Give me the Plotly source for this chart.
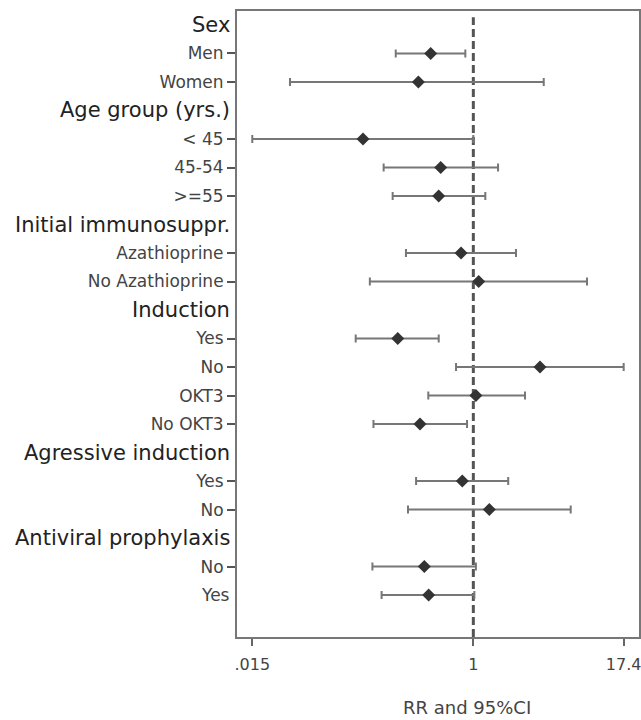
import plotly.graph_objects as go

# Row labels (top to bottom); headers have no estimate
row_labels = ["Sex", "Men", "Women",
              "Age group (yrs.)", "< 45", "45-54", ">=55",
              "Initial immunosuppr.", "Azathioprine", "No Azathioprine",
              "Induction", "Yes", "No", "OKT3", "No OKT3",
              "Agressive induction", "Yes", "No",
              "Antiviral prophylaxis", "No", "Yes"]
is_header = [True, False, False,
             True, False, False, False,
             True, False, False,
             True, False, False, False, False,
             True, False, False,
             True, False, False]
rr = [None, 0.445, 0.352,
      None, 0.123, 0.538, 0.518,
      None, 0.792, 1.107,
      None, 0.238, 3.55, 1.05, 0.363,
      None, 0.811, 1.355,
      None, 0.394, 0.428]
ci_low = [None, 0.229, 0.0307,
          None, 0.015, 0.182, 0.216,
          None, 0.278, 0.140,
          None, 0.107, 0.720, 0.425, 0.150,
          None, 0.337, 0.289,
          None, 0.147, 0.175]
ci_high = [None, 0.859, 3.81,
           None, 1.0, 1.60, 1.256,
           None, 2.25, 8.67,
           None, 0.518, 17.4, 2.67, 0.887,
           None, 1.94, 6.36,
           None, 1.05, 1.02]
x_tick_vals = [0.015, 1, 17.4]
x_tick_text = [".015", "1", "17.4"]
x_title = "RR and 95%CI"

FONT = "DejaVu Sans"

ys, xs, plus, minus = [], [], [], []
for i, (v, lo, hi) in enumerate(zip(rr, ci_low, ci_high)):
    if v is None:
        continue
    ys.append(i)
    xs.append(v)
    plus.append(hi - v)
    minus.append(v - lo)

fig = go.Figure()
fig.add_trace(go.Scatter(
    x=xs, y=ys, mode="markers",
    marker=dict(symbol="diamond", size=10, color="#333333"),
    error_x=dict(type="data", symmetric=False, array=plus, arrayminus=minus,
                 color="#777777", thickness=2, width=4),
    showlegend=False, hoverinfo="skip"))

# reference line at RR = 1
fig.add_shape(type="line", xref="x", yref="paper", x0=1, x1=1, y0=0, y1=0.99,
              line=dict(color="#555555", width=3, dash="8px,4px"), layer="below")

# tick rows: all non-header rows except the final one (drawn without tick)
last = len(row_labels) - 1
tick_rows = [i for i, h in enumerate(is_header) if not h and i != last]
tick_text = [row_labels[i] for i in tick_rows]

for i, h in enumerate(is_header):
    if h:
        fig.add_annotation(x=0, xref="paper", y=i, yref="y", text=row_labels[i],
                           xanchor="right", yanchor="middle", xshift=-5, showarrow=False,
                           font=dict(family=FONT, size=21, color="#222222"))
fig.add_annotation(x=0, xref="paper", y=last, yref="y", text=row_labels[last],
                   xanchor="right", yanchor="middle", xshift=-5, showarrow=False,
                   font=dict(family=FONT, size=17, color="#444444"))

fig.add_annotation(x=0.572, xref="paper", y=-0.112, yref="paper", text=x_title,
                   xanchor="center", yanchor="middle", showarrow=False,
                   font=dict(family=FONT, size=18, color="#444444"))

fig.update_xaxes(type="log", range=[-1.95, 1.367], automargin=False,
                 tickvals=x_tick_vals, ticktext=x_tick_text,
                 ticks="outside", ticklen=7, tickwidth=2, tickcolor="#666666",
                 showline=True, linecolor="#777777", linewidth=2, mirror=True,
                 showgrid=False, zeroline=False, ticklabelstandoff=5,
                 ticklabeloverflow="allow",
                 tickfont=dict(family=FONT, size=16, color="#444444"))
fig.update_yaxes(range=[21.47, -0.49], tickvals=tick_rows, ticktext=tick_text,
                 automargin=False,
                 ticks="outside", ticklen=8, tickwidth=2, tickcolor="#555555",
                 showline=True, linecolor="#777777", linewidth=2, mirror=True,
                 showgrid=False, zeroline=False,
                 tickfont=dict(family=FONT, size=17, color="#444444"))

fig.update_layout(width=641, height=720,
                  margin=dict(l=237, r=2, t=11, b=83, autoexpand=False),
                  plot_bgcolor="white", paper_bgcolor="white",
                  font=dict(family=FONT))

# remove the browser's default page margin so the figure sits at the window corner
fig.write_html("out.html",
               config={"displayModeBar": False},
               post_script="document.body.style.margin='0';"
                           "document.body.style.overflow='hidden';"
                           "document.documentElement.style.overflow='hidden';")
